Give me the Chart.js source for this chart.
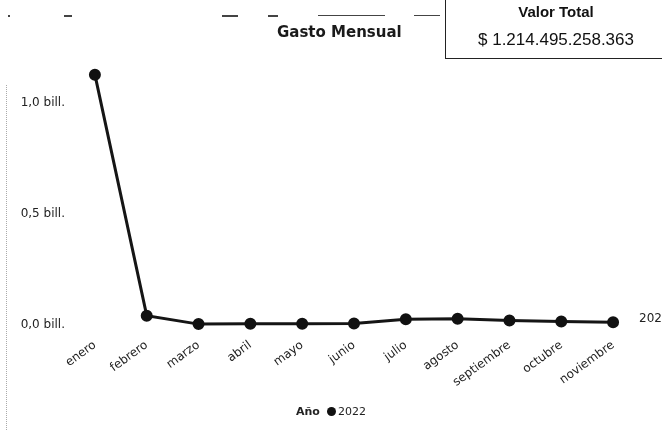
<!DOCTYPE html>
<html>
<head>
<meta charset="utf-8">
<script src="https://cdn.jsdelivr.net/npm/chart.js@4.4.1/dist/chart.umd.min.js"></script>
<style>
  html, body { margin: 0; padding: 0; background: #fff; }
  #wrap { position: relative; width: 662px; height: 437px; overflow: hidden; background: #fff; }
  #c { position: absolute; left: 0; top: 0; }
  #title { position: absolute; left: 277px; top: 23px; font-family: "DejaVu Sans", sans-serif; font-weight: bold; font-size: 15px; color: #1a1a1a; white-space: nowrap; }
  #card { position: absolute; left: 445px; top: -2px; width: 230px; height: 61px; border-left: 1px solid #222; border-bottom: 1px solid #222; box-sizing: border-box; }
  #card .h { position: absolute; left: 0; width: 220px; top: 5px; text-align: center; font-family: "Liberation Sans Narrow", "Liberation Sans", sans-serif; font-weight: bold; font-size: 15px; color: #111; }
  #card .v { position: absolute; left: 0; width: 220px; top: 32px; text-align: center; font-family: "Liberation Sans", Arial, sans-serif; font-size: 17px; color: #111; }
  #legend { position: absolute; left: 296px; top: 405px; font-family: "DejaVu Sans", sans-serif; font-size: 11px; color: #222; white-space: nowrap; }
  #legend b { margin-right: 7px; }
  #legend .dot { display: inline-block; width: 9px; height: 9px; border-radius: 50%; background: #111; margin-right: 2px; vertical-align: -1px; }
  .dash { position: absolute; top: 15px; height: 2px; background: #444; }
  #vline { position: absolute; left: 6px; top: 85px; height: 345px; border-left: 1px dotted #aaa; }
</style>
</head>
<body>
<div id="wrap">
  <canvas id="c" width="662" height="437"></canvas>
  <div class="dash" style="left:8px;width:2px;"></div>
  <div class="dash" style="left:64px;width:8px;"></div>
  <div class="dash" style="left:222px;width:16px;"></div>
  <div class="dash" style="left:268px;width:10px;"></div>
  <div class="dash" style="left:318px;width:67px;height:1px;"></div>
  <div class="dash" style="left:414px;width:26px;height:1px;"></div>
  <div id="vline"></div>
  <div id="title"></div>
  <div id="card"><div class="h"></div><div class="v"></div></div>
  <div id="legend"></div>
</div>
<script>
// ---- data ----
const months = ["enero", "febrero", "marzo", "abril", "mayo", "junio", "julio", "agosto", "septiembre", "octubre", "noviembre"];
const seriesYear = "2022";
const gasto2022 = [1.125e12, 0.042e12, 0.004e12, 0.006e12, 0.006e12, 0.007e12, 0.026e12, 0.028e12, 0.02e12, 0.016e12, 0.012e12];
const yTicks = [0, 0.5e12, 1.0e12];
const yTickLabels = ["0,0 bill.", "0,5 bill.", "1,0 bill."];
const chartTitle = "Gasto Mensual";
const cardTitle = "Valor Total";
const cardValue = "$ 1.214.495.258.363";
const legendTitle = "Año";

document.getElementById('title').textContent = chartTitle;
document.querySelector('#card .h').textContent = cardTitle;
document.querySelector('#card .v').textContent = cardValue;
document.getElementById('legend').innerHTML = '<b></b><span class="dot"></span><span class="yr"></span>';
document.querySelector('#legend b').textContent = legendTitle;
document.querySelector('#legend .yr').textContent = seriesYear;

const endLabel = {
  id: 'endLabel',
  afterDatasetsDraw(chart) {
    const meta = chart.getDatasetMeta(0);
    const last = meta.data[meta.data.length - 1];
    const ctx = chart.ctx;
    ctx.save();
    ctx.font = '12px "DejaVu Sans"';
    ctx.fillStyle = '#222';
    ctx.textBaseline = 'middle';
    ctx.textAlign = 'left';
    ctx.fillText(seriesYear, last.x + 26, last.y - 3);
    ctx.restore();
  }
};

new Chart(document.getElementById('c'), {
  type: 'line',
  data: {
    labels: months,
    datasets: [{
      label: seriesYear,
      data: gasto2022,
      borderColor: '#151515',
      backgroundColor: '#151515',
      borderWidth: 3,
      pointRadius: 4.5,
      pointBackgroundColor: '#111',
      pointBorderColor: '#111',
      tension: 0,
      clip: false
    }]
  },
  plugins: [endLabel],
  options: {
    responsive: false,
    animation: false,
    layout: { padding: { left: 0, right: 23, top: 58, bottom: 0 } },
    plugins: { legend: { display: false }, title: { display: false }, tooltip: { enabled: false } },
    scales: {
      x: {
        offset: true,
        grid: { display: false, drawTicks: false },
        border: { display: false },
        ticks: { minRotation: 36, maxRotation: 36, padding: 13, color: '#222', font: { family: 'DejaVu Sans', size: 12 } },
        afterFit(s) { s.height = 112; }
      },
      y: {
        min: 0, max: 1.2e12,
        afterBuildTicks(s) { s.ticks = yTicks.map(v => ({ value: v })); },
        grid: { display: false, drawTicks: false },
        border: { display: false },
        ticks: {
          padding: 4,
          color: '#222',
          font: { family: 'DejaVu Sans', size: 12 },
          callback(v) { const i = yTicks.indexOf(v); return i >= 0 ? yTickLabels[i] : ''; }
        },
        afterFit(s) { s.width = 69; }
      }
    }
  }
});
</script>
</body>
</html>
